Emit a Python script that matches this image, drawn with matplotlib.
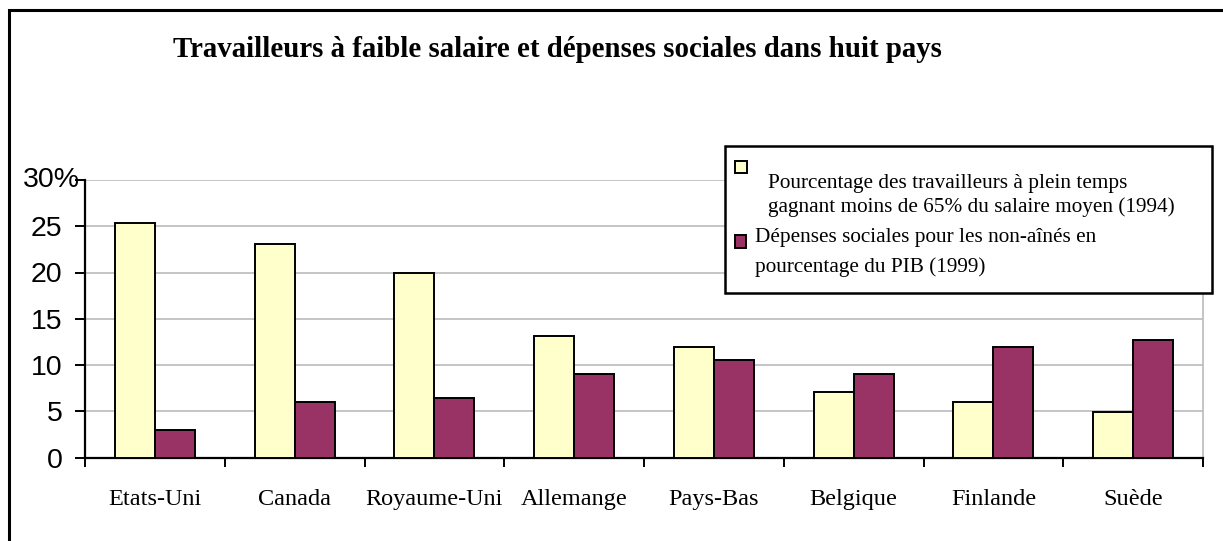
import numpy as np
import matplotlib
matplotlib.use('Agg')
import matplotlib.pyplot as plt
from matplotlib.patches import Rectangle

#==================
# Data
countries = ['Etats-Uni', 'Canada', 'Royaume-Uni', 'Allemange', 'Pays-Bas',
             'Belgique', 'Finlande', 'Suède']
lowWage = [25.3, 23.1, 20.0, 13.1, 12.0, 7.05, 6.0, 4.9]
socialSpend = [3.0, 6.0, 6.4, 9.0, 10.5, 9.0, 12.0, 12.7]
yTicks = [0, 5, 10, 15, 20, 25, 30]
title = 'Travailleurs à faible salaire et dépenses sociales dans huit pays'
legendLow = ['Pourcentage des travailleurs à plein temps',
             'gagnant moins de 65% du salaire moyen (1994)']
legendSocial = ['Dépenses sociales pour les non-aînés en', 'pourcentage du PIB (1999)']

yellow = '#FFFFCC'
purple = '#993366'
serif = 'Liberation Serif'
sans = 'Liberation Sans'

#==================
# Figure
W, H = 1223, 541
fig = plt.figure(figsize=(W/100, H/100), dpi=100)
ax = fig.add_axes([85/W, 1-457.5/H, (1203-85)/W, (457.5-180)/H])

x = np.arange(len(countries))
bw = 0.286
ax.bar(x - bw/2, lowWage, bw, color=yellow, edgecolor='black', linewidth=1.4, zorder=3)
ax.bar(x + bw/2, socialSpend, bw, color=purple, edgecolor='black', linewidth=1.4, zorder=3)

ax.set_xlim(-0.5, len(countries) - 0.5)
ax.set_ylim(0, 30)

# y axis (30 gets a % sign, drawn separately)
ax.set_yticks(yTicks)
ax.set_yticklabels([str(v) for v in yTicks[:-1]] + [''], fontfamily=sans, fontsize=20.5)
ax.tick_params(axis='y', direction='out', length=7.2, width=1.4, pad=9)
ax.text((80-85)/(1203-85), 30, str(yTicks[-1]) + '%', transform=ax.get_yaxis_transform(),
        ha='right', va='center', fontfamily=sans, fontsize=20.5)
ax.yaxis.grid(True, color='#C0C0C0', linewidth=1.3, zorder=0)

# x axis: ticks at boundaries, labels at centres
ax.set_xticks(np.arange(len(countries) + 1) - 0.5)
ax.set_xticklabels([])
ax.tick_params(axis='x', which='major', direction='out', length=6.5, width=1.4)
ax.set_xticks(x, minor=True)
ax.set_xticklabels(countries, minor=True, fontfamily=serif, fontsize=17.5)
ax.tick_params(axis='x', which='minor', length=0, pad=23)

for s in ['left', 'bottom']:
    ax.spines[s].set_linewidth(1.6)
ax.spines['top'].set_visible(False)
ax.spines['right'].set_color('#C0C0C0')
ax.spines['right'].set_linewidth(1.3)

# title
fig.text(173/W, 1-57/H, title, fontfamily=serif, fontweight='bold', fontsize=20.8,
         ha='left', va='baseline')

# legend box
fig.add_artist(Rectangle((725/W, 1-293/H), (1212-725)/W, (293-146)/H, transform=fig.transFigure,
                         facecolor='white', edgecolor='black', linewidth=1.8, zorder=5))
fig.add_artist(Rectangle((735/W, 1-173/H), 12/W, 12/H, transform=fig.transFigure,
                         facecolor=yellow, edgecolor='black', linewidth=1.4, zorder=6))
fig.add_artist(Rectangle((735/W, 1-248/H), 11/W, 13/H, transform=fig.transFigure,
                         facecolor=purple, edgecolor='black', linewidth=1.4, zorder=6))
fig.text(768/W, 1-188/H, legendLow[0], fontfamily=serif, fontsize=15.3, ha='left', va='baseline', zorder=7)
fig.text(768/W, 1-212/H, legendLow[1], fontfamily=serif, fontsize=15.3, ha='left', va='baseline', zorder=7)
fig.text(755/W, 1-242/H, legendSocial[0], fontfamily=serif, fontsize=15.3, ha='left', va='baseline', zorder=7)
fig.text(755/W, 1-272/H, legendSocial[1], fontfamily=serif, fontsize=15.3, ha='left', va='baseline', zorder=7)

# outer border (cut off on the right and bottom, as in the source)
fig.add_artist(Rectangle((9/W, -0.05), 1.2, 1-10/H+0.05, transform=fig.transFigure,
                         fill=False, edgecolor='black', linewidth=2.2))

fig.savefig('out.png', dpi=100)
